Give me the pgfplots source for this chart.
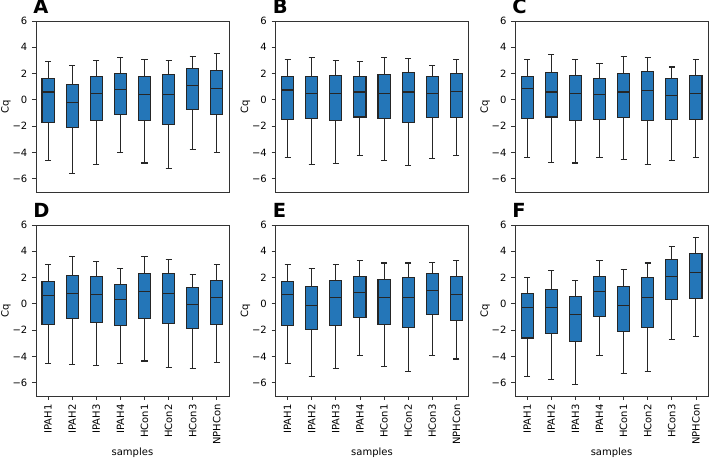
\documentclass[border=0pt]{standalone}
\usepackage{fontspec}
\setmainfont{DejaVu Sans}
\usepackage{pgfplots}
\pgfplotsset{compat=1.18}
\usepgfplotslibrary{groupplots,statistics}
\usetikzlibrary{calc}
\definecolor{boxblue}{RGB}{36,118,184}

% one prepared box: position, lower whisker, Q1, median, Q3, upper whisker
\newcommand{\bx}[6]{\addplot[bxs, boxplot prepared={draw position=#1,
  lower whisker=#2, lower quartile=#3, median=#4,
  upper quartile=#5, upper whisker=#6}] coordinates {};}

\pgfplotsset{
  bxs/.style={fill=boxblue, draw=black!85, line width=0.8pt,
    boxplot/draw direction=y,
    boxplot/box extend=0.5, boxplot/whisker extend=0.25},
}

\begin{document}
\begin{tikzpicture}
\begin{groupplot}[
  group style={group size=3 by 2, horizontal sep=35pt, vertical sep=24.75pt},
  scale only axis, width=144.75pt, height=128.25pt,
  xmin=0.5, xmax=8.5, ymin=-7, ymax=6,
  ytick={-6,-4,...,6}, yticklabels={−6,−4,−2,0,2,4,6},
  xtick={1,...,8},
  xticklabels={IPAH1,IPAH2,IPAH3,IPAH4,HCon1,HCon2,HCon3,NPHCon},
  xticklabel style={rotate=90, anchor=east},
  tick align=outside, tick pos=left, major tick length=3pt,
  tick label style={font=\fontsize{7.5}{9}\selectfont},
  label style={font=\fontsize{7.5}{9}\selectfont},
  axis line style={black!80}, tick style={black!80, line width=0.6pt},
  ylabel={Cq},
  ylabel style={at={(axis description cs:-0.1554,0.5)}, anchor=center},
  xlabel style={at={(axis description cs:0.5,-0.3333)}, anchor=center},
]
% A
\nextgroupplot[xtick=\empty]
\bx{1}{-4.6}{-1.7}{0.6}{1.6}{2.9}
\bx{2}{-5.6}{-2.1}{-0.2}{1.2}{2.6}
\bx{3}{-4.9}{-1.6}{0.45}{1.8}{3.0}
\bx{4}{-4.0}{-1.1}{0.8}{2.0}{3.2}
\bx{5}{-4.8}{-1.6}{0.4}{1.8}{3.1}
\bx{6}{-5.2}{-1.9}{0.4}{1.9}{3.0}
\bx{7}{-3.8}{-0.7}{1.1}{2.4}{3.3}
\bx{8}{-4.0}{-1.1}{0.9}{2.25}{3.5}
% B
\nextgroupplot[xtick=\empty]
\bx{1}{-4.4}{-1.5}{0.75}{1.75}{3.05}
\bx{2}{-4.95}{-1.45}{0.45}{1.8}{3.2}
\bx{3}{-4.85}{-1.6}{0.5}{1.85}{3.0}
\bx{4}{-4.2}{-1.3}{0.6}{1.75}{2.95}
\bx{5}{-4.6}{-1.45}{0.5}{1.95}{3.2}
\bx{6}{-5.0}{-1.7}{0.6}{2.05}{3.15}
\bx{7}{-4.45}{-1.35}{0.45}{1.75}{2.6}
\bx{8}{-4.25}{-1.35}{0.65}{2.0}{3.1}
% C
\nextgroupplot[xtick=\empty]
\bx{1}{-4.35}{-1.45}{0.85}{1.8}{3.1}
\bx{2}{-4.75}{-1.3}{0.6}{2.05}{3.45}
\bx{3}{-4.8}{-1.55}{0.5}{1.85}{3.05}
\bx{4}{-4.35}{-1.5}{0.4}{1.6}{2.8}
\bx{5}{-4.55}{-1.35}{0.6}{2.0}{3.3}
\bx{6}{-4.9}{-1.55}{0.7}{2.15}{3.25}
\bx{7}{-4.6}{-1.5}{0.3}{1.6}{2.5}
\bx{8}{-4.4}{-1.5}{0.5}{1.85}{3.1}
% D
\nextgroupplot[xlabel={samples}]
\bx{1}{-4.55}{-1.6}{0.65}{1.7}{3.0}
\bx{2}{-4.65}{-1.15}{0.75}{2.15}{3.6}
\bx{3}{-4.7}{-1.4}{0.7}{2.05}{3.25}
\bx{4}{-4.55}{-1.65}{0.3}{1.45}{2.7}
\bx{5}{-4.35}{-1.15}{0.9}{2.3}{3.6}
\bx{6}{-4.85}{-1.5}{0.75}{2.3}{3.4}
\bx{7}{-4.95}{-1.85}{-0.05}{1.25}{2.2}
\bx{8}{-4.5}{-1.6}{0.45}{1.75}{3.0}
% E
\nextgroupplot[xlabel={samples}]
\bx{1}{-4.55}{-1.65}{0.7}{1.7}{3.0}
\bx{2}{-5.5}{-1.95}{-0.1}{1.3}{2.7}
\bx{3}{-4.9}{-1.65}{0.45}{1.8}{3.0}
\bx{4}{-3.95}{-1.05}{0.85}{2.05}{3.3}
\bx{5}{-4.8}{-1.6}{0.45}{1.85}{3.1}
\bx{6}{-5.15}{-1.8}{0.45}{2.0}{3.1}
\bx{7}{-3.95}{-0.85}{1.0}{2.3}{3.15}
\bx{8}{-4.2}{-1.3}{0.7}{2.1}{3.3}
% F
\nextgroupplot[xlabel={samples}]
\bx{1}{-5.5}{-2.6}{-0.3}{0.75}{2.0}
\bx{2}{-5.75}{-2.25}{-0.3}{1.1}{2.5}
\bx{3}{-6.15}{-2.9}{-0.8}{0.55}{1.75}
\bx{4}{-3.95}{-1.0}{0.9}{2.1}{3.3}
\bx{5}{-5.3}{-2.1}{-0.1}{1.3}{2.6}
\bx{6}{-5.15}{-1.8}{0.45}{2.0}{3.1}
\bx{7}{-2.75}{0.35}{2.1}{3.4}{4.35}
\bx{8}{-2.5}{0.4}{2.4}{3.8}{5.05}
\end{groupplot}
\foreach \c/\l in {c1r1/A, c2r1/B, c3r1/C, c1r2/D, c2r2/E, c3r2/F}
  \node[anchor=base west, inner sep=0pt, font=\fontsize{14.6}{16}\selectfont\bfseries]
    at ($(group \c.north west)+(-2.25pt,5.25pt)$) {\l};
\pgfresetboundingbox
\path ($(group c1r1.north west)+(-27pt,15.75pt)$)
  rectangle ($(group c3r2.south east)+(0.75pt,-47.25pt)$);
\end{tikzpicture}
\end{document}
